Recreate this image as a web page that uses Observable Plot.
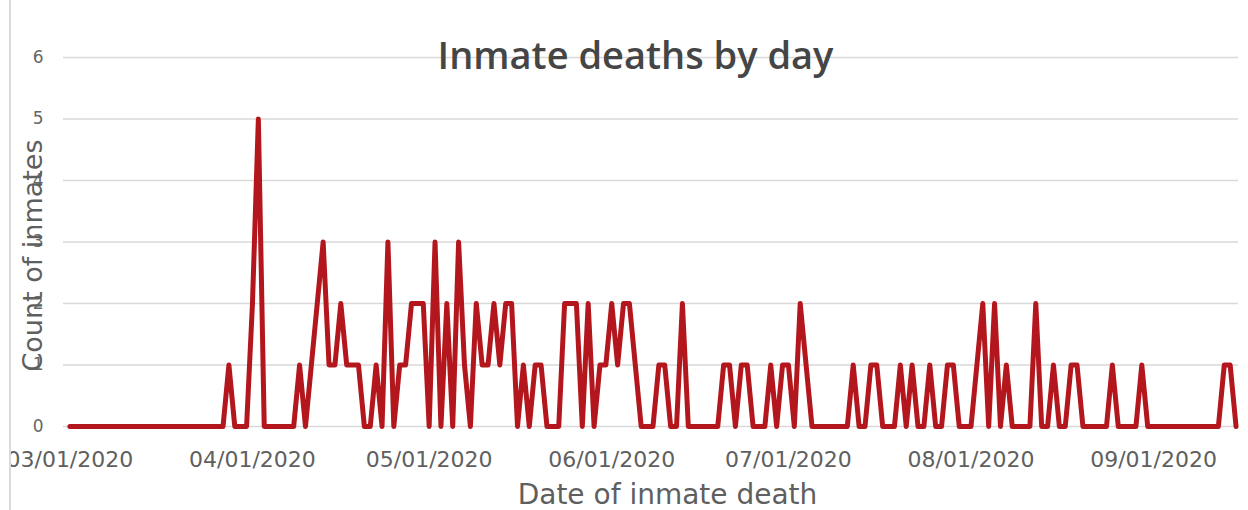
<!DOCTYPE html>
<html>
<head>
<meta charset="utf-8">
<script src="https://cdn.jsdelivr.net/npm/d3@7"></script>
<script src="https://cdn.jsdelivr.net/npm/@observablehq/plot@0.6"></script>
<style>
  html, body { margin: 0; padding: 0; background: #fff; }
  #frame {
    position: absolute; left: 9px; top: 0;
    width: 1239px; height: 510px; overflow: hidden;
    border-left: 2px solid #dadada;
  }
  #chart { margin-left: -11px; }
</style>
</head>
<body>
<div id="frame"><div id="chart"></div></div>
<script>
// Daily inmate death counts, one array per month (index 0 = 1st of the month)
const march = [0,0,0,0,0,0,0,0,0,0, 0,0,0,0,0,0,0,0,0,0, 0,0,0,0,0,0,0,1,0,0, 0];
const april = [2,5,0,0,0,0,0,0,1,0, 1,2,3,1,1,2,1,1,1,0, 0,1,0,3,0,1,1,2,2,2];
const may = [0,3,0,2,0,3,1,0,2,1, 1,2,1,2,2,0,1,0,1,1, 0,0,0,2,2,2,0,2,0,1, 1];
const june = [2,1,2,2,1,0,0,0,1,1, 0,0,2,0,0,0,0,0,0,1, 1,0,1,1,0,0,0,1,0,1];
const july = [1,0,2,1,0,0,0,0,0,0, 0,1,0,0,1,1,0,0,0,1, 0,1,0,0,1,0,0,1,1,0, 0];
const august = [0,1,2,0,2,0,1,0,0,0, 0,2,0,0,1,0,0,1,1,0, 0,0,0,0,1,0,0,0,0,1, 0];
const september = [0,0,0,0,0,0,0,0,0,0, 0,0,1,1,0];

const monthFirstDays = ["2020-03-01", "2020-04-01", "2020-05-01", "2020-06-01",
                        "2020-07-01", "2020-08-01", "2020-09-01"];
const yTicks = [0, 1, 2, 3, 4, 5, 6];

const titleText = "Inmate deaths by day";
const xTitle = "Date of inmate death";
const yTitle = "Count of inmates";

// One row per day
const months = [march, april, may, june, july, august, september];
const series = months.flatMap((counts, m) =>
  counts.map((count, i) => ({date: new Date(Date.UTC(2020, 2 + m, i + 1)), count}))
);
const xTicks = monthFirstDays.map(d => new Date(d));

const chart = Plot.plot({
  width: 1248,
  height: 510,
  marginTop: 57,
  marginBottom: 84,
  marginLeft: 63,
  marginRight: 10,
  style: {fontFamily: "DejaVu Sans", background: "white", overflow: "visible"},
  x: {type: "utc", domain: [new Date(Date.UTC(2020, 1, 28, 22)), new Date(Date.UTC(2020, 8, 15, 10))]},
  y: {domain: [0, 6]},
  marks: [
    Plot.ruleY(yTicks, {stroke: "#d9d9d9", strokeWidth: 1.3}),
    Plot.axisY(yTicks, {tickSize: 0, tickPadding: 20, fontSize: 17, color: "#666666",
                        tickFormat: d3.format("d"), label: null}),
    Plot.axisX(xTicks, {tickSize: 0, tickPadding: 25, fontSize: 22, color: "#5f5f5f",
                        tickFormat: d3.utcFormat("%m/%d/%Y"), label: null}),
    Plot.line(series, {x: "date", y: "count", stroke: "#b3171d", strokeWidth: 5,
                       strokeLinejoin: "round", strokeLinecap: "round"}),
    Plot.text([titleText], {text: d => d, frameAnchor: "top", dx: -15.5, dy: -1,
                            lineAnchor: "middle", fontSize: 38, fontWeight: 600,
                            fontFamily: "Open Sans", fill: "#454545"}),
    Plot.text([xTitle], {text: d => d, frameAnchor: "bottom", dx: 16.5, dy: 69,
                         lineAnchor: "middle", fontSize: 28, fill: "#5f5f5f"}),
    Plot.text([yTitle], {text: d => d, frameAnchor: "left", rotate: -90, dx: -30, dy: 13.5,
                         textAnchor: "middle", lineAnchor: "middle", fontSize: 27, fill: "#5f5f5f"})
  ]
});

document.getElementById("chart").appendChild(chart);
</script>
</body>
</html>
